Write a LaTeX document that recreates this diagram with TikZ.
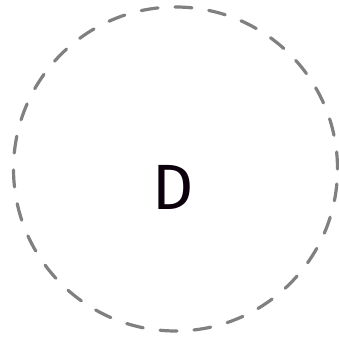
\documentclass[tikz,border=0pt]{standalone}
\usepackage{fontspec}
\setmainfont{Fira Sans}
\usepackage{tikz}
\usetikzlibrary{positioning}

\begin{document}
\begin{tikzpicture}[x=1pt,y=1pt]
\useasboundingbox (0,0) rectangle (339,339);
\draw[gray,line width=3.2pt,line cap=round,dash pattern=on 17pt off 17pt] (175.5,170) circle (162);
\node[text=black!90!violet,font=\fontsize{64}{64}\selectfont] (letterD) at (173,152){D};
\end{tikzpicture}
\end{document}
